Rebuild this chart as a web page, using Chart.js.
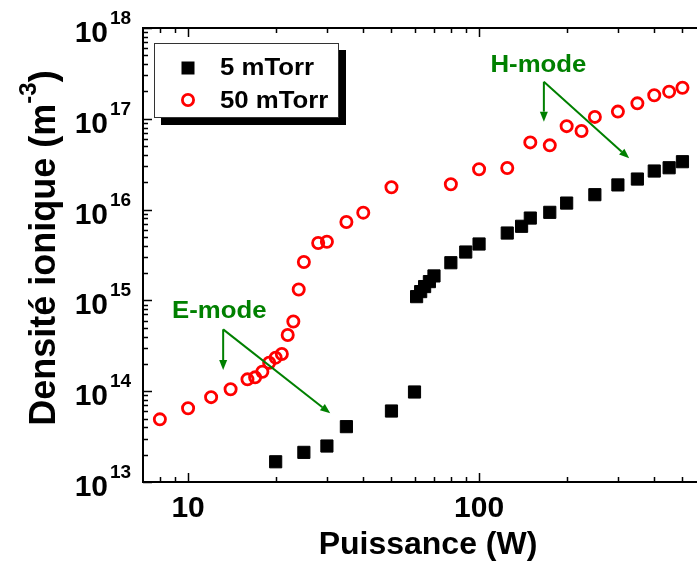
<!DOCTYPE html>
<html>
<head>
<meta charset="utf-8">
<script src="https://cdn.jsdelivr.net/npm/chart.js@4.4.1/dist/chart.umd.min.js"></script>
<style>
  html, body { margin: 0; padding: 0; background: #fff; overflow: hidden; }
  canvas { display: block; }
</style>
</head>
<body>
<canvas id="c" width="697" height="576"></canvas>
<script>
// Ion density vs RF power, two pressures
const power5 = [20, 25, 30, 35, 50, 60, 61, 63, 65, 67.5, 70, 80, 90, 100, 125, 140, 150, 175, 200, 250, 300, 350, 400, 450, 500];
const density5 = [1.67e13, 2.12e13, 2.49e13, 4.07e13, 6.05e13, 9.8e13, 1.1e15, 1.25e15, 1.42e15, 1.61e15, 1.86e15, 2.6e15, 3.41e15, 4.18e15, 5.52e15, 6.55e15, 8.07e15, 9.33e15, 1.18e16, 1.46e16, 1.87e16, 2.17e16, 2.66e16, 2.89e16, 3.37e16];

const power50 = [8, 10, 12, 14, 16, 17, 18, 19, 20, 21, 22, 23, 24, 25, 28, 30, 35, 40, 50, 80, 100, 125, 150, 175, 200, 225, 250, 300, 350, 400, 450, 500];
const density50 = [4.9e13, 6.5e13, 8.6e13, 1.05e14, 1.35e14, 1.42e14, 1.64e14, 2.06e14, 2.34e14, 2.57e14, 4.16e14, 5.86e14, 1.32e15, 2.65e15, 4.28e15, 4.43e15, 7.3e15, 9.25e15, 1.76e16, 1.9e16, 2.78e16, 2.87e16, 5.5e16, 5.1e16, 8.3e16, 7.35e16, 1.05e17, 1.2e17, 1.48e17, 1.82e17, 1.99e17, 2.2e17];

const seriesNames = ['5 mTorr', '50 mTorr'];
const xLabelValues = [10, 100];
const xMinorTicks = [8, 9, 20, 30, 40, 50, 60, 70, 80, 90, 200, 300, 400, 500];
const yDecades = [1e13, 1e14, 1e15, 1e16, 1e17, 1e18];
const xTitle = 'Puissance (W)';
const yTitleMain = 'Densité ionique (m';
const yTitleSup = '-3';
const yTitleEnd = ')';

// Mode annotations, anchored in data units (power, density)
const modeNotes = [
  { text: 'E-mode', at: [12.8, 7.45e14], from: [13.2, 4.8e14], to: [[13.2, 1.71e14], [30.8, 5.7e13]] },
  { text: 'H-mode', at: [160, 3.81e17], from: [167, 2.56e17], to: [[167, 9.3e16], [328, 3.67e16]] }
];

const FONT = '"Liberation Sans", Arial, Helvetica, sans-serif';
const bold = px => `bold ${px}px ${FONT}`;
const GREEN = '#008000';

// text drawn slightly widened, like the legend/annotation lettering
function wideText(ctx, str, x, y, stretch) {
  ctx.save();
  ctx.translate(x, y);
  ctx.scale(stretch, 1);
  ctx.fillText(str, 0, 0);
  ctx.restore();
}

function arrow(ctx, x0, y0, x1, y1) {
  const ang = Math.atan2(y1 - y0, x1 - x0), L = 10, W = 4;
  const bx = x1 - L * Math.cos(ang), by = y1 - L * Math.sin(ang);
  ctx.beginPath(); ctx.moveTo(x0, y0); ctx.lineTo(bx, by); ctx.stroke();
  ctx.beginPath();
  ctx.moveTo(x1, y1);
  ctx.lineTo(bx + W * Math.sin(ang), by - W * Math.cos(ang));
  ctx.lineTo(bx - W * Math.sin(ang), by + W * Math.cos(ang));
  ctx.closePath(); ctx.fill();
}

const decorations = {
  id: 'decorations',
  afterDraw(chart) {
    const { ctx, chartArea: a, scales: { x, y } } = chart;
    ctx.save();

    // axis frame (left, top, bottom)
    ctx.strokeStyle = '#000';
    ctx.lineWidth = 2;
    ctx.beginPath();
    ctx.moveTo(a.left, a.top); ctx.lineTo(a.right, a.top);
    ctx.moveTo(a.left, a.top - 1); ctx.lineTo(a.left, a.bottom + 1);
    ctx.moveTo(a.left, a.bottom); ctx.lineTo(a.right, a.bottom);
    ctx.stroke();

    // inward tick marks
    ctx.lineWidth = 1.5;
    ctx.beginPath();
    const xTick = (v, len) => {
      const px = Math.round(x.getPixelForValue(v)) + 0.5;
      ctx.moveTo(px, a.bottom); ctx.lineTo(px, a.bottom - len);
      ctx.moveTo(px, a.top); ctx.lineTo(px, a.top + len);
    };
    xLabelValues.forEach(v => xTick(v, 9));
    xMinorTicks.forEach(v => xTick(v, 5));
    const yTick = (v, len) => {
      const py = Math.round(y.getPixelForValue(v)) + 0.5;
      ctx.moveTo(a.left, py); ctx.lineTo(a.left + len, py);
    };
    yDecades.forEach((d, i) => {
      yTick(d, 9);
      if (i < yDecades.length - 1) for (let k = 2; k <= 9; k++) yTick(d * k, 5);
    });
    ctx.stroke();

    // y tick labels as powers of ten
    ctx.fillStyle = '#000';
    ctx.textBaseline = 'alphabetic';
    yDecades.forEach(d => {
      const py = y.getPixelForValue(d);
      ctx.font = bold(30);
      ctx.textAlign = 'right';
      ctx.fillText('10', a.left - 35, py + 14);
      ctx.font = bold(19);
      ctx.textAlign = 'left';
      ctx.fillText(String(Math.round(Math.log10(d))), a.left - 33, py - 4);
    });

    // x axis title
    ctx.font = bold(32);
    ctx.textAlign = 'center';
    ctx.fillText(xTitle, a.left + 285, a.bottom + 72);

    // y axis title with superscript
    ctx.save();
    ctx.translate(a.left - 88, (a.top + a.bottom) / 2 - 7);
    ctx.rotate(-Math.PI / 2);
    ctx.textAlign = 'left';
    ctx.font = bold(36);
    const w1 = ctx.measureText(yTitleMain).width;
    const w3 = ctx.measureText(yTitleEnd).width;
    ctx.font = bold(24);
    const w2 = ctx.measureText(yTitleSup).width;
    let sx = -(w1 + w2 + w3) / 2;
    ctx.font = bold(36);
    ctx.fillText(yTitleMain, sx, 0);
    ctx.font = bold(24);
    ctx.fillText(yTitleSup, sx + w1, -19);
    ctx.font = bold(36);
    ctx.fillText(yTitleEnd, sx + w1 + w2, 0);
    ctx.restore();

    // mode annotations
    ctx.strokeStyle = GREEN;
    ctx.fillStyle = GREEN;
    ctx.lineWidth = 2;
    modeNotes.forEach(n => {
      ctx.font = bold(23);
      ctx.textAlign = 'center';
      ctx.textBaseline = 'middle';
      wideText(ctx, n.text, x.getPixelForValue(n.at[0]), y.getPixelForValue(n.at[1]), 1.12);
      const fx = x.getPixelForValue(n.from[0]), fy = y.getPixelForValue(n.from[1]);
      n.to.forEach(t => arrow(ctx, fx, fy, x.getPixelForValue(t[0]), y.getPixelForValue(t[1])));
    });

    // legend box with drop shadow
    const lx = a.left + 11, ly = a.top + 15, lw = 185, lh = 75;
    ctx.fillStyle = '#000';
    ctx.fillRect(lx + 7, ly + 7, lw, lh);
    ctx.fillStyle = '#fff';
    ctx.fillRect(lx, ly, lw, lh);
    ctx.strokeStyle = '#333';
    ctx.lineWidth = 1;
    ctx.strokeRect(lx + 0.5, ly + 0.5, lw - 1, lh - 1);

    const ds = chart.data.datasets;
    // square marker
    ctx.fillStyle = ds[0].backgroundColor;
    ctx.fillRect(lx + 34 - 6.5, ly + 25 - 6.5, 13, 13);
    // ring marker
    ctx.strokeStyle = ds[1].borderColor;
    ctx.lineWidth = ds[1].borderWidth;
    ctx.beginPath();
    ctx.arc(lx + 34, ly + 57, ds[1].pointRadius, 0, Math.PI * 2);
    ctx.stroke();

    ctx.fillStyle = '#000';
    ctx.font = bold(23);
    ctx.textAlign = 'left';
    ctx.textBaseline = 'alphabetic';
    wideText(ctx, ds[0].label, lx + 66, ly + 32, 1.12);
    wideText(ctx, ds[1].label, lx + 66, ly + 65, 1.12);

    ctx.restore();
  }
};

new Chart(document.getElementById('c'), {
  type: 'scatter',
  data: {
    datasets: [
      {
        label: seriesNames[0],
        data: power5.map((p, i) => ({ x: p, y: density5[i] })),
        pointStyle: 'rect',
        pointRadius: 8.6,
        borderWidth: 1,
        borderColor: '#000',
        backgroundColor: '#000',
        showLine: false
      },
      {
        label: seriesNames[1],
        data: power50.map((p, i) => ({ x: p, y: density50[i] })),
        pointStyle: 'circle',
        pointRadius: 5.6,
        borderWidth: 2.8,
        borderColor: '#ff0000',
        backgroundColor: 'rgba(0,0,0,0)',
        showLine: false
      }
    ]
  },
  options: {
    responsive: false,
    devicePixelRatio: 1,
    animation: false,
    events: [],
    layout: { autoPadding: false, padding: { top: 28, right: 0, bottom: 0, left: 0 } },
    plugins: { legend: { display: false }, tooltip: { enabled: false } },
    scales: {
      x: {
        type: 'logarithmic',
        position: 'bottom',
        min: 7,
        max: 561,
        grid: { display: false, drawTicks: false },
        border: { display: false },
        afterBuildTicks: s => { s.ticks = xLabelValues.map(v => ({ value: v })); },
        afterFit: s => { s.height = 94; },
        ticks: {
          autoSkip: false,
          maxRotation: 0,
          padding: 9,
          color: '#000',
          font: { family: FONT, size: 30, weight: 'bold' },
          callback: v => String(v)
        }
      },
      y: {
        type: 'logarithmic',
        min: 1e13,
        max: 1e18,
        grid: { display: false, drawTicks: false },
        border: { display: false },
        ticks: { display: false },
        afterFit: s => { s.width = 143; }
      }
    }
  },
  plugins: [decorations]
});
</script>
</body>
</html>
